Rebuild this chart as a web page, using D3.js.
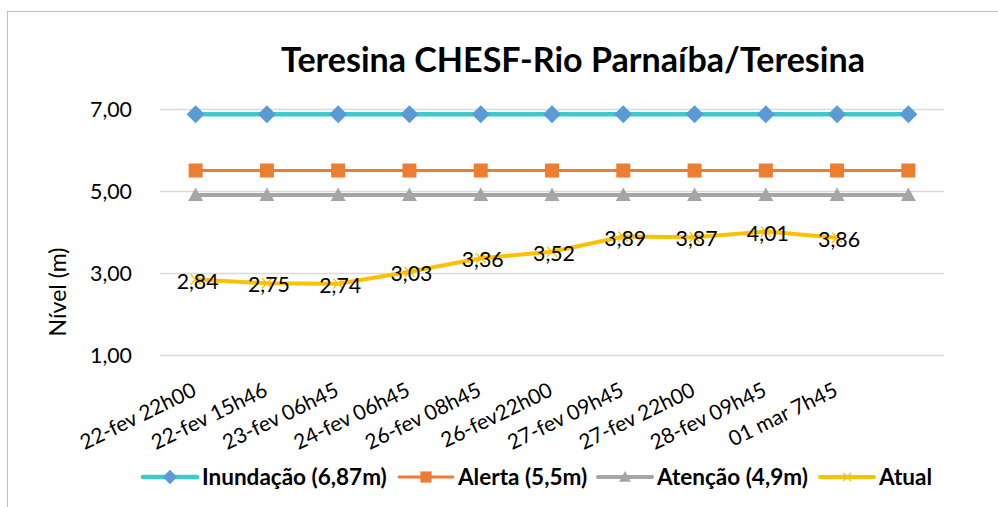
<!DOCTYPE html>
<html><head><meta charset="utf-8">
<script src="https://cdn.jsdelivr.net/npm/d3@7/dist/d3.min.js"></script>
<style>body{margin:0;background:#fff}svg{display:block}text{font-family:Lato,"Open Sans",sans-serif}</style>
</head><body>
<svg id="c" width="998" height="507"></svg>
<script>
const categories = ["22-fev 22h00","22-fev 15h46","23-fev 06h45","24-fev 06h45","26-fev 08h45","26-fev22h00","27-fev 09h45","27-fev 22h00","28-fev 09h45","01 mar 7h45",""];
const inundacao = [6.87,6.87,6.87,6.87,6.87,6.87,6.87,6.87,6.87,6.87,6.87];
const alerta = [5.5,5.5,5.5,5.5,5.5,5.5,5.5,5.5,5.5,5.5,5.5];
const atencao = [4.9,4.9,4.9,4.9,4.9,4.9,4.9,4.9,4.9,4.9,4.9];
const atual = [2.84,2.75,2.74,3.03,3.36,3.52,3.89,3.87,4.01,3.86];
const yTicks = [1,3,5,7];
const seriesNames = ["Inundação (6,87m)","Alerta (5,5m)","Atenção (4,9m)","Atual"];
const title = "Teresina CHESF-Rio Parnaíba/Teresina";
const yTitle = "Nível (m)";

const svg = d3.select("#c");
svg.append("rect").attr("x",7.5).attr("y",11.5).attr("width",1000).attr("height",600)
  .attr("fill","#fff").attr("stroke","#BFBFBF").attr("stroke-width",1);

function fit(sel, target){
  const n = sel.node();
  const fs = parseFloat(sel.attr("font-size"));
  const w = n.getComputedTextLength();
  const nf = fs*target/w;
  sel.attr("font-size", nf);
  return nf;
}

const x = d3.scaleBand().domain(d3.range(categories.length)).range([160,944]);
const cx = i => x(i) + x.bandwidth()/2;
const y = d3.scaleLinear().domain([1,7]).range([355,109]);

svg.append("g").selectAll("line").data(yTicks).join("line")
  .attr("x1",160).attr("x2",944).attr("y1",d=>Math.round(y(d))+0.5).attr("y2",d=>Math.round(y(d))+0.5)
  .attr("stroke","#D9D9D9").attr("stroke-width",1.3);

const fmt = d => d3.format(".2f")(d).replace(".",",");

const probe = svg.append("text").attr("font-size",20).text("7,00");
const numFs = fit(probe, 42);
probe.remove();

const yAxis = d3.axisLeft(y).tickValues(yTicks).tickFormat(fmt).tickSize(0).tickPadding(0);
const ga = svg.append("g").attr("transform","translate(132,0)").call(yAxis);
ga.select(".domain").remove();
ga.selectAll("text").attr("font-size",numFs).attr("fill","#000").attr("dy",0).attr("y",7)
  .style("font-family","Lato");

const probeX = svg.append("text").attr("font-size",20).text(categories[0]);
const xFs = fit(probeX, 126);
probeX.remove();
const xAxis = d3.axisBottom(x).tickFormat(i=>categories[i]).tickSize(0).tickPadding(0);
const gx = svg.append("g").call(xAxis);
gx.select(".domain").remove();
gx.selectAll(".tick").attr("transform", i => `translate(${cx(i)+2},395)`);
gx.selectAll("text").attr("font-size",xFs).attr("fill","#000").attr("dy",0).attr("y",0)
  .attr("text-anchor","end").attr("transform","rotate(-26)").style("font-family","Lato");

const t = svg.append("text").attr("x",573).attr("y",72).attr("text-anchor","middle")
  .attr("font-size",30).attr("font-weight","bold").attr("fill","#000").text(title);
fit(t, 584);
const yt = svg.append("text").attr("transform","translate(66,292) rotate(-90)").attr("text-anchor","middle")
  .attr("font-size",21).attr("fill","#000").text(yTitle);
fit(yt, 89);

const line = d3.line().x((d,i)=>cx(i)).y(d=>y(d));
const series = [
  {vals:inundacao, color:"#3CCACA", mcolor:"#5B9BD5", w:4.5, m:"diamond"},
  {vals:alerta, color:"#ED7D31", mcolor:"#ED7D31", w:3, m:"square"},
  {vals:atencao, color:"#A5A5A5", mcolor:"#A5A5A5", w:4, m:"triangle"},
  {vals:atual, color:"#FFC000", mcolor:"#FFC000", w:4, m:"x"}
];
function marker(g, type, color, px, py, s){
  s = s || 1;
  if(type==="diamond") g.append("path").attr("d",`M${px},${py-9*s}L${px+9*s},${py}L${px},${py+9*s}L${px-9*s},${py}Z`).attr("fill",color);
  else if(type==="square") g.append("rect").attr("x",px-7*s).attr("y",py-7*s).attr("width",14*s).attr("height",14*s).attr("fill",color);
  else if(type==="triangle") g.append("path").attr("d",`M${px},${py-7.5*s}L${px+7.5*s},${py+6*s}L${px-7.5*s},${py+6*s}Z`).attr("fill",color);
  else g.append("path").attr("d",`M${px-5*s},${py-5*s}L${px+5*s},${py+5*s}M${px+5*s},${py-5*s}L${px-5*s},${py+5*s}`).attr("stroke",color).attr("stroke-width",1.3).attr("fill","none");
}
series.forEach(s=>{
  const g = svg.append("g");
  g.append("path").datum(s.vals).attr("d",line).attr("fill","none").attr("stroke",s.color)
    .attr("stroke-width",s.w).attr("stroke-linejoin","round");
  s.vals.forEach((v,i)=>marker(g,s.m,s.mcolor,cx(i),y(v)));
});
svg.append("g").selectAll("text").data(atual).join("text")
  .attr("x",(d,i)=>cx(i)+2).attr("y",d=>y(d)+9).attr("text-anchor","middle")
  .attr("font-size",numFs).attr("fill","#000").text(d=>fmt(d));

const legX = [143,399,598,820];
const legW = [185,130,151,52];
const lg = svg.append("g");
const probeL = lg.append("text").attr("font-size",20).attr("font-weight","bold").text(seriesNames[0]);
const lFs = fit(probeL, legW[0]);
probeL.remove();
series.forEach((s,k)=>{
  const x0 = legX[k], ly = 477;
  lg.append("line").attr("x1",x0).attr("x2",x0+54).attr("y1",ly).attr("y2",ly)
    .attr("stroke",s.color).attr("stroke-width",s.w).attr("stroke-linecap","round");
  marker(lg,s.m,s.mcolor,x0+27,ly,0.8);
  lg.append("text").attr("x",x0+59).attr("y",ly+8).attr("font-size",lFs).attr("font-weight","bold")
    .attr("fill","#000").text(seriesNames[k]);
});
</script>
</body></html>
